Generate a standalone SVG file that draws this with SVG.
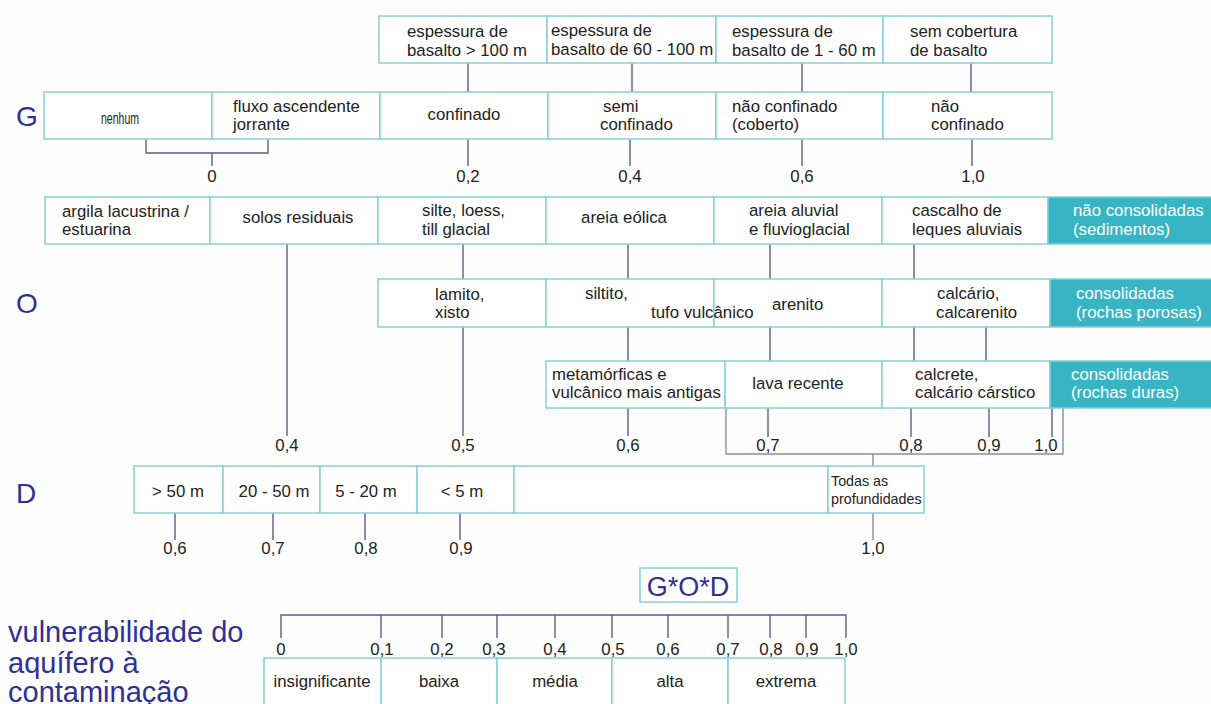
<svg xmlns="http://www.w3.org/2000/svg" width="1211" height="704" viewBox="0 0 1211 704">
<style>
.b{fill:#ffffff;stroke:#86d0d7;stroke-width:1.5}
.tb{fill:#38b5c5;stroke:#86d0d7;stroke-width:1.5}
.t{font-family:"Liberation Sans",Arial,sans-serif;font-size:16.8px;fill:#222}
.w{font-family:"Liberation Sans",Arial,sans-serif;font-size:16.8px;fill:#ffffff}
.m{text-anchor:middle}
.big{font-family:"Liberation Sans",Arial,sans-serif;font-size:29px;fill:#2e3192}
.c{fill:none;stroke:#5d5b8c;stroke-width:1.4}
.cl{fill:none;stroke:#8a8aa8;stroke-width:1.4}
.nh{font-family:"Liberation Sans",Arial,sans-serif;font-size:17px;fill:#222}
.sm{font-family:"Liberation Sans",Arial,sans-serif;font-size:14.3px;fill:#222}
</style>
<rect x="0" y="0" width="1211" height="704" fill="#fdfdfd"/>

<g id="labels-left">
<text class="big" x="16" y="126" style="font-size:28px">G</text>
<text class="big" x="16" y="313" style="font-size:28px">O</text>
<text class="big" x="16" y="503" style="font-size:28px">D</text>
<text class="big" x="8" y="642">vulnerabilidade do</text>
<text class="big" x="8" y="673">aquífero à</text>
<text class="big" x="8" y="702">contaminação</text>
</g>

<g id="connectors">
<line class="c" x1="468" y1="63" x2="468" y2="92"/>
<line class="c" x1="632" y1="63" x2="632" y2="92"/>
<line class="c" x1="802" y1="63" x2="802" y2="92"/>
<line class="c" x1="971" y1="63" x2="971" y2="92"/>
<polyline class="c" points="146,139 146,153 268,153 268,139"/>
<line class="c" x1="212" y1="153" x2="212" y2="166"/>
<line class="c" x1="468" y1="139" x2="468" y2="166"/>
<line class="c" x1="630" y1="139" x2="630" y2="166"/>
<line class="c" x1="802" y1="139" x2="802" y2="166"/>
<line class="c" x1="972" y1="139" x2="972" y2="166"/>
<line class="c" x1="287" y1="244" x2="287" y2="436"/>
<line class="c" x1="463" y1="244" x2="463" y2="279"/>
<line class="c" x1="628" y1="244" x2="628" y2="279"/>
<line class="c" x1="770" y1="244" x2="770" y2="279"/>
<line class="c" x1="914" y1="244" x2="914" y2="279"/>
<line class="c" x1="463" y1="327" x2="463" y2="436"/>
<line class="c" x1="628" y1="327" x2="628" y2="361"/>
<line class="c" x1="770" y1="327" x2="770" y2="361"/>
<line class="c" x1="914" y1="327" x2="914" y2="361"/>
<line class="c" x1="986" y1="327" x2="986" y2="361"/>
<line class="c" x1="628" y1="408" x2="628" y2="436"/>
<line class="c" x1="768" y1="408" x2="768" y2="437"/>
<line class="c" x1="911" y1="408" x2="911" y2="437"/>
<line class="c" x1="989" y1="408" x2="989" y2="437"/>
<line class="c" x1="1052" y1="408" x2="1052" y2="437"/>
<polyline class="cl" points="726,408 726,454 1063,454 1063,408"/>
<line class="cl" x1="873" y1="454" x2="873" y2="466"/>
<line class="c" x1="175" y1="513" x2="175" y2="540"/>
<line class="c" x1="273" y1="513" x2="273" y2="540"/>
<line class="c" x1="365" y1="513" x2="365" y2="540"/>
<line class="c" x1="460" y1="513" x2="460" y2="540"/>
<line class="cl" x1="873" y1="513" x2="873" y2="540"/>
<polyline class="c" points="281,638 281,615 846,615 846,638"/>
<line class="c" x1="381" y1="615" x2="381" y2="638"/>
<line class="c" x1="442" y1="615" x2="442" y2="638"/>
<line class="c" x1="497" y1="615" x2="497" y2="638"/>
<line class="c" x1="555" y1="615" x2="555" y2="638"/>
<line class="c" x1="612" y1="615" x2="612" y2="638"/>
<line class="c" x1="668" y1="615" x2="668" y2="638"/>
<line class="c" x1="728" y1="615" x2="728" y2="638"/>
<line class="c" x1="770" y1="615" x2="770" y2="638"/>
<line class="c" x1="806" y1="615" x2="806" y2="638"/>
</g>

<g id="values">
<text class="t m" x="212" y="182">0</text>
<text class="t m" x="468" y="182">0,2</text>
<text class="t m" x="630" y="182">0,4</text>
<text class="t m" x="802" y="182">0,6</text>
<text class="t m" x="973" y="182">1,0</text>
<text class="t m" x="287" y="451">0,4</text>
<text class="t m" x="463" y="451">0,5</text>
<text class="t m" x="628" y="451">0,6</text>
<text class="t m" x="768" y="451">0,7</text>
<text class="t m" x="911" y="451">0,8</text>
<text class="t m" x="989" y="451">0,9</text>
<text class="t m" x="1046" y="451">1,0</text>
<text class="t m" x="175" y="554">0,6</text>
<text class="t m" x="273" y="554">0,7</text>
<text class="t m" x="366" y="554">0,8</text>
<text class="t m" x="461" y="554">0,9</text>
<text class="t m" x="873" y="554">1,0</text>
<text class="t m" x="281" y="655">0</text>
<text class="t m" x="382" y="655">0,1</text>
<text class="t m" x="442" y="655">0,2</text>
<text class="t m" x="494" y="655">0,3</text>
<text class="t m" x="555" y="655">0,4</text>
<text class="t m" x="613" y="655">0,5</text>
<text class="t m" x="668" y="655">0,6</text>
<text class="t m" x="728" y="655">0,7</text>
<text class="t m" x="771" y="655">0,8</text>
<text class="t m" x="807" y="655">0,9</text>
<text class="t m" x="846" y="655">1,0</text>
</g>

<g id="basalt-100"><rect class="b" x="379" y="16" width="168" height="47"/><text class="t" x="407" y="37">espessura de</text><text class="t" x="407" y="56">basalto &gt; 100 m</text></g>
<g id="basalt-60-100"><rect class="b" x="547" y="16" width="169" height="47"/><text class="t" x="551" y="36">espessura de</text><text class="t" x="551" y="55">basalto de 60 - 100 m</text></g>
<g id="basalt-1-60"><rect class="b" x="716" y="16" width="167" height="47"/><text class="t" x="732" y="37">espessura de</text><text class="t" x="732" y="56">basalto de 1 - 60 m</text></g>
<g id="basalt-none"><rect class="b" x="883" y="16" width="169" height="47"/><text class="t" x="910" y="37">sem cobertura</text><text class="t" x="910" y="56">de basalto</text></g>

<g id="g-nenhum"><rect class="b" x="44" y="92" width="168" height="47"/><text class="nh" x="101" y="124" textLength="38" lengthAdjust="spacingAndGlyphs">nenhum</text></g>
<g id="g-jorrante"><rect class="b" x="212" y="92" width="168" height="47"/><text class="t" x="233" y="112">fluxo ascendente</text><text class="t" x="233" y="130">jorrante</text></g>
<g id="g-confinado"><rect class="b" x="380" y="92" width="168" height="47"/><text class="t m" x="464" y="120">confinado</text></g>
<g id="g-semi"><rect class="b" x="548" y="92" width="168" height="47"/><text class="t" x="603" y="112">semi</text><text class="t" x="600" y="130">confinado</text></g>
<g id="g-coberto"><rect class="b" x="716" y="92" width="167" height="47"/><text class="t" x="732" y="112">não confinado</text><text class="t" x="732" y="130">(coberto)</text></g>
<g id="g-naoconf"><rect class="b" x="883" y="92" width="169" height="47"/><text class="t" x="931" y="112">não</text><text class="t" x="931" y="130">confinado</text></g>

<g id="o-argila"><rect class="b" x="45" y="197" width="165" height="47"/><text class="t" x="62" y="217">argila lacustrina /</text><text class="t" x="62" y="235">estuarina</text></g>
<g id="o-solos"><rect class="b" x="210" y="197" width="168" height="47"/><text class="t m" x="298" y="223">solos residuais</text></g>
<g id="o-silte"><rect class="b" x="378" y="197" width="168" height="47"/><text class="t" x="422" y="216">silte, loess,</text><text class="t" x="422" y="235">till glacial</text></g>
<g id="o-eolica"><rect class="b" x="546" y="197" width="168" height="47"/><text class="t m" x="624" y="223">areia eólica</text></g>
<g id="o-aluvial"><rect class="b" x="714" y="197" width="168" height="47"/><text class="t" x="749" y="216">areia aluvial</text><text class="t" x="749" y="235">e fluvioglacial</text></g>
<g id="o-cascalho"><rect class="b" x="882" y="197" width="166" height="47"/><text class="t" x="912" y="216">cascalho de</text><text class="t" x="912" y="235">leques aluviais</text></g>
<g id="o-sedimentos"><rect class="tb" x="1048" y="197" width="170" height="47"/><text class="w" x="1073" y="216">não consolidadas</text><text class="w" x="1073" y="235">(sedimentos)</text></g>

<g id="o-lamito"><rect class="b" x="378" y="279" width="168" height="48"/><text class="t" x="435" y="300">lamito,</text><text class="t" x="435" y="318">xisto</text></g>
<g id="o-siltito"><rect class="b" x="546" y="279" width="168" height="48"/><text class="t" x="585" y="299">siltito,</text></g>
<g id="o-arenito"><rect class="b" x="714" y="279" width="168" height="48"/><text class="t" x="772" y="310">arenito</text></g>
<text class="t" x="651" y="318">tufo vulcânico</text>
<g id="o-calcario"><rect class="b" x="882" y="279" width="168" height="48"/><text class="t" x="937" y="299">calcário,</text><text class="t" x="936" y="318">calcarenito</text></g>
<g id="o-porosas"><rect class="tb" x="1050" y="279" width="168" height="48"/><text class="w" x="1076" y="299">consolidadas</text><text class="w" x="1076" y="318">(rochas porosas)</text></g>

<g id="o-metamorficas"><rect class="b" x="546" y="361" width="179" height="47"/><text class="t" x="552" y="380">metamórficas e</text><text class="t" x="552" y="398">vulcânico mais antigas</text></g>
<g id="o-lava"><rect class="b" x="725" y="361" width="157" height="47"/><text class="t m" x="798" y="389">lava recente</text></g>
<g id="o-calcrete"><rect class="b" x="882" y="361" width="168" height="47"/><text class="t" x="915" y="380">calcrete,</text><text class="t" x="915" y="398">calcário cárstico</text></g>
<g id="o-duras"><rect class="tb" x="1050" y="361" width="168" height="47"/><text class="w" x="1071" y="380">consolidadas</text><text class="w" x="1071" y="398">(rochas duras)</text></g>

<g id="d-50"><rect class="b" x="134" y="466" width="89" height="47"/><text class="t m" x="178" y="497">&gt; 50 m</text></g>
<g id="d-20-50"><rect class="b" x="223" y="466" width="97" height="47"/><text class="t m" x="274" y="497">20 - 50 m</text></g>
<g id="d-5-20"><rect class="b" x="320" y="466" width="97" height="47"/><text class="t m" x="366" y="497">5 - 20 m</text></g>
<g id="d-5"><rect class="b" x="417" y="466" width="97" height="47"/><text class="t m" x="462" y="497">&lt; 5 m</text></g>
<g id="d-empty"><rect class="b" x="514" y="466" width="314" height="47"/></g>
<g id="d-todas"><rect class="b" x="828" y="466" width="96" height="47"/><text class="sm" x="831" y="486">Todas as</text><text class="sm" x="831" y="504">profundidades</text></g>

<g id="god"><rect class="b" x="640" y="568" width="97" height="34"/><text class="big m" x="688" y="596" style="font-size:27px">G*O*D</text></g>

<g id="v-insignificante"><rect class="b" x="264" y="658" width="117" height="62"/><text class="t m" x="322" y="687">insignificante</text></g>
<g id="v-baixa"><rect class="b" x="381" y="658" width="116" height="62"/><text class="t m" x="439" y="687">baixa</text></g>
<g id="v-media"><rect class="b" x="497" y="658" width="115" height="62"/><text class="t m" x="555" y="687">média</text></g>
<g id="v-alta"><rect class="b" x="612" y="658" width="116" height="62"/><text class="t m" x="670" y="687">alta</text></g>
<g id="v-extrema"><rect class="b" x="728" y="658" width="117" height="62"/><text class="t m" x="786" y="687">extrema</text></g>
</svg>
